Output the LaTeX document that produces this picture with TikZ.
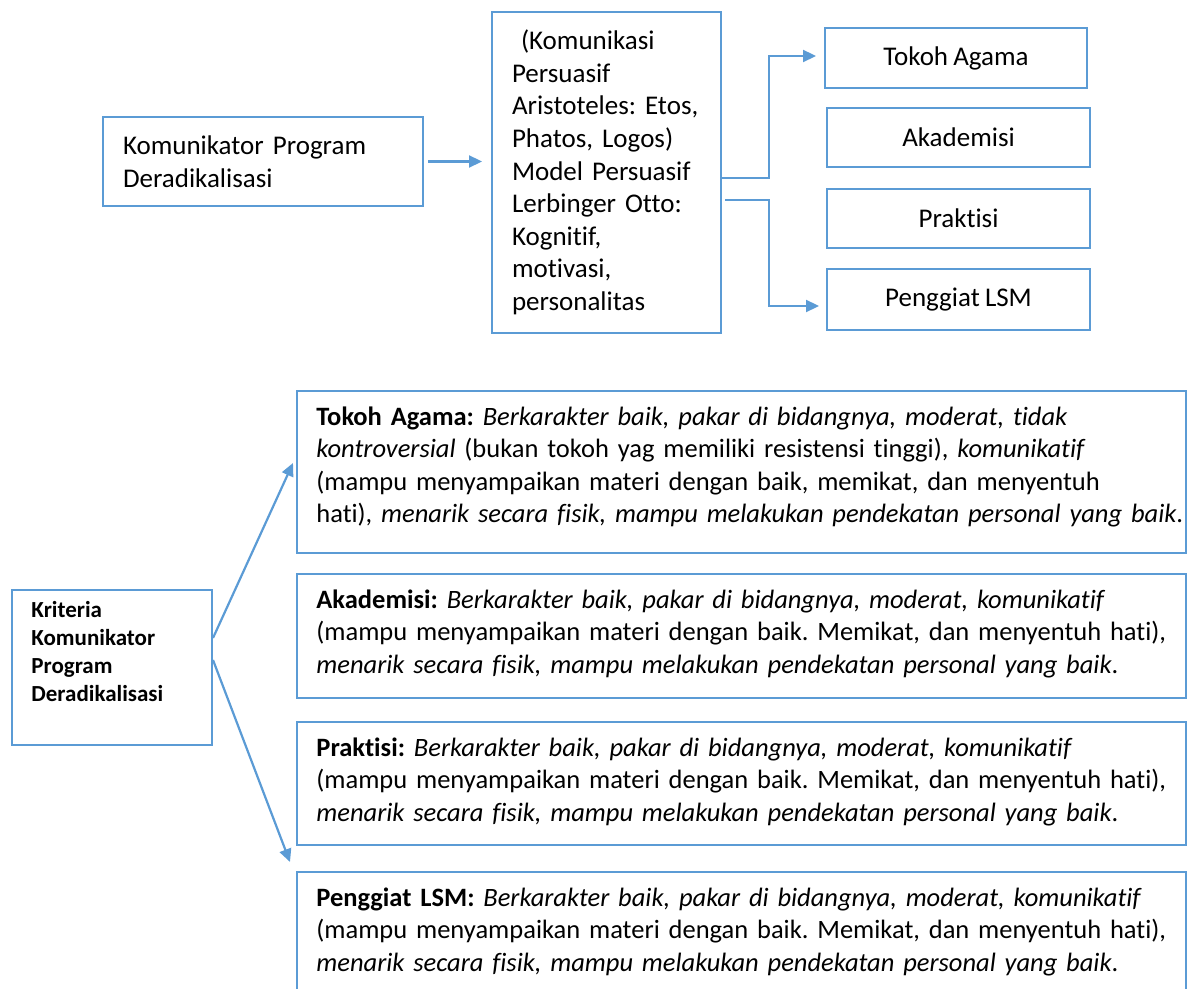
\documentclass[tikz,border=0pt]{standalone}
\usepackage{fontspec}
\setmainfont{Carlito}[Ligatures=NoCommon, WordSpace=0.85]
\usetikzlibrary{positioning,calc,arrows.meta}
\definecolor{boxblue}{HTML}{5B9BD5}
\frenchspacing

\tikzset{
  box/.style={draw=boxblue, line width=1pt, rectangle, inner sep=0pt},
  conn/.style={draw=boxblue, line width=1.1pt, -{Triangle[length=6.5pt,width=6pt]}},
  toptext/.style={font=\fontsize{13.5}{16.3}\selectfont},
  desctext/.style={font=\fontsize{13.25}{16.3}\selectfont, text width=445pt, align=left, inner sep=0pt, anchor=base west},
}

\begin{document}
\begin{tikzpicture}[x=0.5pt, y=-0.5pt]
    \useasboundingbox (0,0) rectangle (1187,989);
    \clip (0,0) rectangle (1187,989);

    % Top part: komunikator and persuasion models
    \node[box, toptext, text width=140pt, inner xsep=10pt, minimum height=44.5pt, align=left] (kom) at (263,161.5) {Komunikator Program\\Deradikalisasi};
    \node[box, toptext, text width=94.5pt, inner xsep=10pt, minimum height=160.5pt, align=left] (mid) at (606.5,172.5) {\ (Komunikasi\\Persuasif\\\mbox{Aristoteles: Etos,}\\Phatos, Logos)\\Model Persuasif\\Lerbinger Otto:\\Kognitif,\\motivasi,\\personalitas};

    % Groups of komunikator
    \node[box, toptext, minimum width=131pt, minimum height=30pt] (tokoh) at (956,58) {Tokoh Agama};
    \node[box, toptext, minimum width=131.5pt, minimum height=29.5pt] (akad) at (958.5,137.5) {Akademisi};
    \node[box, toptext, minimum width=131.5pt, minimum height=29.5pt] (prak) at (958.5,218.5) {Praktisi};
    \node[box, toptext, minimum width=131.5pt, minimum height=30.5pt] (peng) at (958.5,299.5) {Penggiat LSM};

    \draw[conn, shorten <=2pt, shorten >=4.5pt] (kom.east) -- (kom.east -| mid.west);
    \draw[conn] ($(mid.east)+(0,5.5)$) -- ++(47,0) |- ($(tokoh.west)+(-8,-2)$);
    \draw[conn] ($(mid.east)+(3,27.5)$) -- ++(44,0) |- ($(peng.west)+(-7,6.5)$);

    % Bottom part: kriteria
    \node[box, minimum width=100pt, minimum height=77.5pt, anchor=north west] (krit) at (11,589) {};
    \node[anchor=base west, inner sep=0pt, text width=90pt, align=left, font=\fontsize{11.5}{14}\selectfont\bfseries] (krit-txt) at (31,617) {Kriteria\\Komunikator\\Program\\Deradikalisasi};

    \node[box, minimum width=444.5pt, minimum height=81pt, anchor=north west] (tokoh-box) at (296,390) {};
    \node[desctext] (tokoh-txt) at (316,425) {\textbf{Tokoh Agama:} \textit{Berkarakter baik, pakar di bidangnya, moderat, tidak}\\\textit{kontroversial} (bukan tokoh yag memiliki resistensi tinggi), \textit{komunikatif}\\(mampu menyampaikan materi dengan baik, memikat, dan menyentuh\\hati), \textit{menarik secara fisik, mampu melakukan pendekatan personal yang baik}.};

    \foreach \nm/\lbl/\ytop/\bh in {akad/Akademisi/573/62, prak/Praktisi/721/61.5, peng/Penggiat LSM/871/64.5} {
        \node[box, minimum width=444.5pt, minimum height=\bh pt, anchor=north west] (\nm-box) at (296,\ytop) {};
        \node[desctext] (\nm-txt) at (316,\ytop+35) {\textbf{\lbl:} \textit{Berkarakter baik, pakar di bidangnya, moderat, komunikatif}\\(mampu menyampaikan materi dengan baik. Memikat, dan menyentuh hati),\\\textit{menarik secara fisik, mampu melakukan pendekatan personal yang baik}.};
    }

    \draw[conn] ($(krit.north east)+(0,49)$) -- ($(tokoh-box.north west)+(-3,73)$);
    \draw[conn] ($(krit.north east)+(0,71)$) -- ($(peng-box.north west)+(-6,-9)$);
\end{tikzpicture}
\end{document}
